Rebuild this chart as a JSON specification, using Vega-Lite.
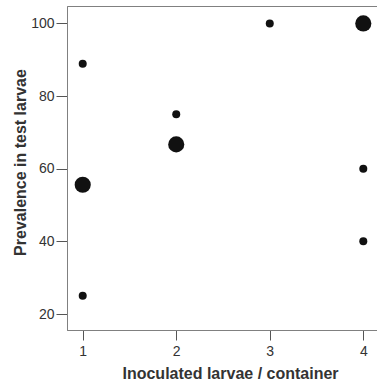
{
  "$schema": "https://vega.github.io/schema/vega-lite/v6.json",
  "autosize": "none",
  "padding": {"left": 67, "top": 6, "right": 0, "bottom": 52},
  "width": 312,
  "height": 324,
  "background": "white",
  "config": {
    "view": {"stroke": "#808080", "strokeWidth": 1},
    "font": "Liberation Sans"
  },
  "data": {
    "values": [
      {"inoculated": 1, "prevalence": 88.9, "n": 1},
      {"inoculated": 1, "prevalence": 55.6, "n": 2},
      {"inoculated": 1, "prevalence": 25, "n": 1},
      {"inoculated": 2, "prevalence": 75, "n": 1},
      {"inoculated": 2, "prevalence": 66.7, "n": 2},
      {"inoculated": 3, "prevalence": 100, "n": 1},
      {"inoculated": 4, "prevalence": 100, "n": 2},
      {"inoculated": 4, "prevalence": 60, "n": 1},
      {"inoculated": 4, "prevalence": 40, "n": 1}
    ]
  },
  "mark": {"type": "circle", "opacity": 1, "color": "#111111"},
  "encoding": {
    "x": {
      "field": "inoculated",
      "type": "quantitative",
      "title": "Inoculated larvae / container",
      "scale": {"domain": [0.832, 4.168], "nice": false, "zero": false},
      "axis": {
        "values": [1, 2, 3, 4],
        "grid": false,
        "domainColor": "#808080",
        "tickColor": "#555555",
        "tickSize": 10,
        "labelFontSize": 14,
        "labelColor": "#333333",
        "labelPadding": 4,
        "titleFontSize": 16,
        "titleFontWeight": "bold",
        "titleColor": "#333333",
        "titleBaseline": "alphabetic",
        "titleX": 163,
        "titleY": 48
      }
    },
    "y": {
      "field": "prevalence",
      "type": "quantitative",
      "title": "Prevalence in test larvae",
      "scale": {"domain": [15.6, 104.8], "nice": false, "zero": false},
      "axis": {
        "values": [20, 40, 60, 80, 100],
        "grid": false,
        "domainColor": "#808080",
        "tickColor": "#555555",
        "tickSize": 11,
        "labelFontSize": 14,
        "labelColor": "#333333",
        "labelPadding": 2,
        "titleFontSize": 16,
        "titleFontWeight": "bold",
        "titleColor": "#333333",
        "titleBaseline": "alphabetic",
        "titleX": -42,
        "titleY": 156
      }
    },
    "size": {
      "field": "n",
      "type": "quantitative",
      "scale": {"domain": [1, 2], "range": [64, 260]},
      "legend": null
    }
  }
}
